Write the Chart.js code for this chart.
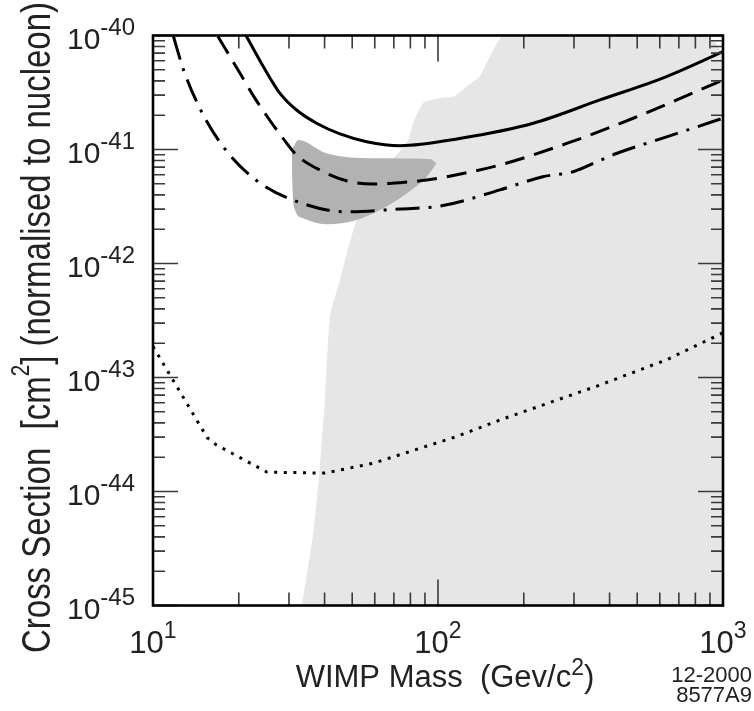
<!DOCTYPE html>
<html>
<head>
<meta charset="utf-8">
<script src="https://cdn.jsdelivr.net/npm/chart.js@4.4.0/dist/chart.umd.min.js"></script>
<style>
  html, body { margin: 0; padding: 0; background: #fff; }
  canvas { display: block; }
</style>
</head>
<body>
<canvas id="wimpChart" width="754" height="711"></canvas>
<script>
// WIMP mass (GeV/c^2) vs cross section (cm^2)
const solidMass  = [21.2, 24.4, 27.9, 31.9, 37.5, 45.3, 56.2, 73.6, 119, 216, 370, 634, 1000];
const solidSigma = [1.0e-40, 5.32e-41, 3.11e-41, 2.22e-41, 1.70e-41, 1.37e-41, 1.17e-41, 1.08e-41, 1.25e-41, 1.70e-41, 2.72e-41, 4.36e-41, 7.21e-41];

const dashedMass  = [16.9, 20.2, 22.8, 25.4, 28.6, 31.9, 39.6, 49.1, 59.3, 73.6, 91.2, 112, 165, 283, 484, 1000];
const dashedSigma = [9.8e-41, 4.66e-41, 2.81e-41, 1.88e-41, 1.25e-41, 8.95e-42, 6.38e-42, 5.22e-42, 4.98e-42, 5.12e-42, 5.40e-42, 5.89e-42, 7.31e-42, 1.13e-41, 1.88e-41, 4.07e-41];

const dashDotMass  = [11.8, 12.8, 14.8, 18.0, 23.4, 32.6, 47.2, 73.6, 102, 165, 233, 298, 362, 425, 634, 1000];
const dashDotSigma = [9.8e-41, 4.98e-41, 2.15e-41, 9.9e-42, 5.22e-42, 3.44e-42, 2.84e-42, 3.01e-42, 3.19e-42, 4.42e-42, 5.77e-42, 6.38e-42, 7.82e-42, 9.27e-42, 1.29e-41, 1.88e-41];

const dottedMass  = [10, 15.5, 16.7, 25.1, 40.1, 59.3, 116, 165, 370, 634, 1000];
const dottedSigma = [1.87e-43, 2.96e-44, 2.56e-44, 1.48e-44, 1.45e-44, 1.77e-44, 3.03e-44, 4.24e-44, 8.59e-44, 1.43e-43, 2.47e-43];

// dark grey region (upper and lower edge)
const darkTopMass  = [30.7, 32.4, 40.6, 59.3, 93.8, 98.8];
const darkTopSigma = [9.9e-42, 1.21e-41, 9.25e-42, 8.37e-42, 8.26e-42, 7.57e-42];
const darkLowMass  = [30.7, 30.8, 31.5, 33.6, 40.6, 51.9, 62.5, 77.6, 91.3, 98.8];
const darkLowSigma = [9.9e-42, 5.40e-42, 2.94e-42, 2.49e-42, 2.21e-42, 2.41e-42, 2.94e-42, 4.12e-42, 5.77e-42, 7.57e-42];

// light grey region (upper edge, filled down to the axis)
const lightMass  = [33.3, 36.5, 38.5, 40.1, 41.8, 45.3, 50.5, 59.3, 77.6, 81.8, 88.8, 102, 113, 126, 140, 148, 161, 169, 850, 937, 1000];
const lightSigma = [1.0e-45, 4.30e-45, 1.65e-44, 6.35e-44, 3.41e-43, 7.16e-43, 1.97e-42, 5.40e-42, 1.13e-41, 1.71e-41, 2.56e-41, 2.83e-41, 2.90e-41, 3.56e-41, 4.36e-41, 5.70e-41, 8.55e-41, 1.0e-40, 1.0e-40, 8.77e-41, 6.74e-41];

// axes
const xDecades = [10, 100, 1000];
const xDecadeExps = ['1', '2', '3'];
const yDecades = [1e-45, 1e-44, 1e-43, 1e-42, 1e-41, 1e-40];
const yDecadeExps = ['-45', '-44', '-43', '-42', '-41', '-40'];
const minorSteps = [2, 3, 4, 5, 6, 7, 8, 9];

const FONT = '"Liberation Sans", Arial, Helvetica, sans-serif';

function toPoints(xs, ys) {
  return xs.map((v, i) => ({ x: v, y: ys[i] }));
}

function font(size) {
  return size + 'px ' + FONT;
}

// frame, inward ticks and all the text (superscripts need manual drawing)
const frameAndLabels = {
  id: 'frameAndLabels',
  afterDatasetsDraw(chart) {
    const { ctx, chartArea: a, scales: { x, y } } = chart;
    ctx.save();

    // ticks
    ctx.strokeStyle = '#3a3a3a';
    ctx.lineWidth = 1.6;
    ctx.beginPath();
    xDecades.forEach((d, i) => {
      const steps = i < xDecades.length - 1 ? [1].concat(minorSteps) : [1];
      steps.forEach(k => {
        const px = x.getPixelForValue(d * k);
        const len = k === 1 ? 26 : 13;
        ctx.moveTo(px, a.bottom); ctx.lineTo(px, a.bottom - len);
        ctx.moveTo(px, a.top); ctx.lineTo(px, a.top + len);
      });
    });
    yDecades.forEach((d, i) => {
      const steps = i < yDecades.length - 1 ? [1].concat(minorSteps) : [1];
      steps.forEach(k => {
        const py = y.getPixelForValue(d * k);
        const len = k === 1 ? 25 : 12;
        ctx.moveTo(a.left, py); ctx.lineTo(a.left + len, py);
        ctx.moveTo(a.right, py); ctx.lineTo(a.right - len, py);
      });
    });
    ctx.stroke();

    // frame
    ctx.strokeStyle = '#000';
    ctx.lineWidth = 2.6;
    ctx.strokeRect(a.left, a.top, a.right - a.left, a.bottom - a.top);

    ctx.fillStyle = '#222';
    ctx.textBaseline = 'alphabetic';
    ctx.textAlign = 'left';

    // y tick labels
    yDecades.forEach((d, i) => {
      const py = y.getPixelForValue(d);
      ctx.font = font(24);
      const wExp = ctx.measureText(yDecadeExps[i]).width;
      ctx.font = font(30);
      const wMain = ctx.measureText('10').width;
      const right = 135;
      ctx.fillText('10', right - wExp - wMain, py + 13);
      ctx.font = font(24);
      ctx.fillText(yDecadeExps[i], right - wExp, py - 1);
    });

    // x tick labels
    xDecades.forEach((d, i) => {
      const px = x.getPixelForValue(d);
      ctx.font = font(31);
      const wMain = ctx.measureText('10').width;
      ctx.font = font(23);
      const wExp = ctx.measureText(xDecadeExps[i]).width;
      const left = px - (wMain + wExp) / 2;
      ctx.font = font(31);
      ctx.fillText('10', left, 653);
      ctx.font = font(23);
      ctx.fillText(xDecadeExps[i], left + wMain, 638);
    });

    // x title
    const xParts = ['WIMP Mass  (Gev/c', '2', ')'];
    ctx.font = font(31);
    const w0 = ctx.measureText(xParts[0]).width;
    const w2 = ctx.measureText(xParts[2]).width;
    ctx.font = font(23);
    const w1 = ctx.measureText(xParts[1]).width;
    let tx = 445 - (w0 + w1 + w2) / 2;
    ctx.font = font(31);
    ctx.fillText(xParts[0], tx, 687);
    tx += w0;
    ctx.font = font(23);
    ctx.fillText(xParts[1], tx, 675);
    tx += w1;
    ctx.font = font(31);
    ctx.fillText(xParts[2], tx, 687);

    // figure code
    ctx.font = font(22);
    ctx.textAlign = 'right';
    ctx.fillText('12-2000', 752, 682);
    ctx.fillText('8577A9', 752, 702);
    ctx.textAlign = 'left';

    // y title, rotated and condensed
    const yParts = ['Cross Section  [cm', '2', '] (normalised to nucleon)'];
    ctx.font = font(40);
    const y0 = ctx.measureText(yParts[0]).width;
    const y2 = ctx.measureText(yParts[2]).width;
    ctx.font = font(25);
    const y1 = ctx.measureText(yParts[1]).width;
    const sx = 651 / (y0 + y1 + y2);
    ctx.save();
    ctx.translate(49.5, 653);
    ctx.rotate(-Math.PI / 2);
    ctx.scale(sx, 1);
    ctx.font = font(40);
    ctx.fillText(yParts[0], 0, 0);
    ctx.font = font(25);
    ctx.fillText(yParts[1], y0, -21);
    ctx.font = font(40);
    ctx.fillText(yParts[2], y0 + y1, 0);
    ctx.restore();

    ctx.restore();
  }
};

const lineBase = {
  pointRadius: 0,
  borderColor: '#000',
  borderWidth: 3,
  fill: false,
  cubicInterpolationMode: 'monotone'
};

new Chart(document.getElementById('wimpChart'), {
  type: 'line',
  data: {
    datasets: [
      Object.assign({}, lineBase, { label: 'solid', data: toPoints(solidMass, solidSigma) }),
      Object.assign({}, lineBase, { label: 'dashed', data: toPoints(dashedMass, dashedSigma), borderDash: [20, 10] }),
      Object.assign({}, lineBase, { label: 'dash-dot', data: toPoints(dashDotMass, dashDotSigma), borderDash: [24, 9, 3, 9] }),
      Object.assign({}, lineBase, { label: 'dotted', data: toPoints(dottedMass, dottedSigma), borderDash: [3, 6.6], cubicInterpolationMode: 'default', tension: 0 }),
      {
        label: 'dark region',
        data: toPoints(darkTopMass, darkTopSigma),
        pointRadius: 0, borderWidth: 0, borderColor: 'rgba(0,0,0,0)',
        backgroundColor: '#b2b2b2',
        cubicInterpolationMode: 'monotone',
        fill: '+1'
      },
      {
        label: 'dark region low',
        data: toPoints(darkLowMass, darkLowSigma),
        pointRadius: 0, borderWidth: 0, borderColor: 'rgba(0,0,0,0)',
        cubicInterpolationMode: 'monotone',
        fill: false
      },
      {
        label: 'light region',
        data: toPoints(lightMass, lightSigma),
        pointRadius: 0, borderWidth: 0, borderColor: 'rgba(0,0,0,0)',
        backgroundColor: '#e6e6e6',
        tension: 0.2,
        fill: 'start'
      }
    ]
  },
  options: {
    responsive: false,
    animation: false,
    devicePixelRatio: 1,
    layout: { padding: { left: 153, top: 35.5, right: 31, bottom: 105.5 } },
    plugins: {
      legend: { display: false },
      tooltip: { enabled: false }
    },
    scales: {
      x: { type: 'logarithmic', min: 10, max: 1000, display: false },
      y: { type: 'logarithmic', min: 1e-45, max: 1e-40, display: false }
    }
  },
  plugins: [frameAndLabels]
});
</script>
</body>
</html>
